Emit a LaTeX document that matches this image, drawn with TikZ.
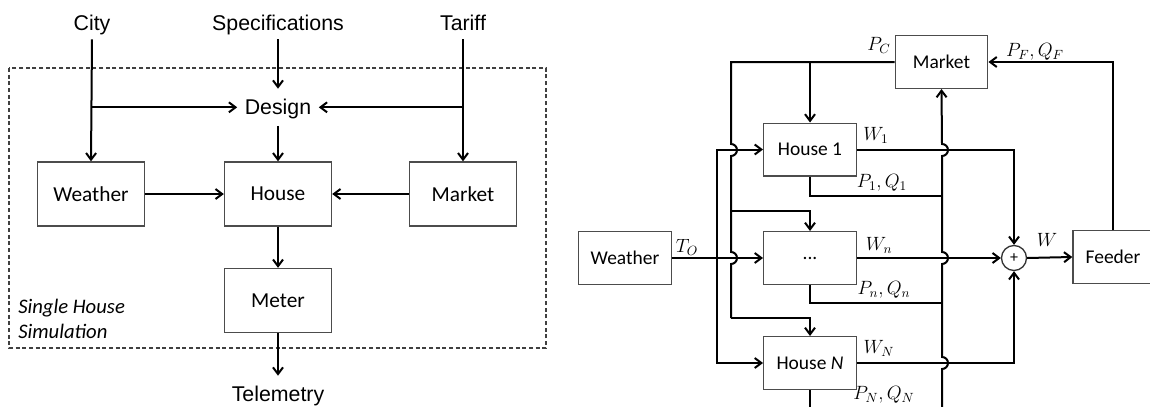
\documentclass[tikz,border=0pt]{standalone}
\usepackage{fontspec}
\setmainfont{Carlito}
\newfontfamily\arialf{Liberation Sans}
\usetikzlibrary{arrows.meta}
\tikzset{
  conn/.style={line width=1.5pt, black},
  arr/.style={conn, -{Straight Barb[length=5pt,width=7.5pt]}},
  boxL/.style={draw=black!70, line width=1pt, fill=white, minimum width=80.25pt, minimum height=48pt, inner sep=0pt, font=\fontsize{16}{19}\selectfont},
  boxR/.style={draw=black!70, line width=1pt, fill=white, minimum width=69.4pt, minimum height=39.5pt, inner sep=0pt, font=\fontsize{14.6}{17}\selectfont},
  toplbl/.style={font=\arialf\fontsize{16}{19}\selectfont, inner xsep=0pt, inner ysep=2.75pt, text height=12pt, text depth=3.5pt},
  mlbl/.style={font=\fontsize{14.4}{17}\selectfont, inner sep=0pt},
  sumnode/.style={circle, draw=black!80, line width=1pt, minimum size=18.75pt, inner sep=0pt, font=\fontsize{12}{14}\selectfont},
  dashbox/.style={draw=black!75, line width=0.8pt, dash pattern=on 3pt off 2pt},
}
\begin{document}
\begin{tikzpicture}[x=0.75pt, y=-0.75pt]
\useasboundingbox (0,0) rectangle (1150,407);

% ---------------- Left diagram ----------------
\draw[dashbox] (9,68) rectangle (546,348);
\node[font=\itshape\fontsize{15.5}{18.75}\selectfont, align=left, anchor=north west, inner sep=0pt] (shs) at (18,299) {Single House\\Simulation};

\node[toplbl] (city) at (92,25) {City};
\node[toplbl] (spec) at (278,25) {Specifications};
\node[toplbl] (tariff) at (463,25) {Tariff};
\node[font=\arialf\fontsize{16}{19}\selectfont, inner xsep=5.5pt, inner ysep=4.5pt, text height=15pt, text depth=3.5pt] (design) at (278,107.3) {Design};

\node[boxL] (weatherL) at (91,194) {Weather};
\node[boxL] (houseL) at (278,194) {House};
\node[boxL] (marketL) at (463,194) {Market};
\node[boxL] (meter) at (278,300.5) {Meter};
\node[font=\arialf\fontsize{16}{19}\selectfont, inner xsep=0pt, inner ysep=7.5pt, text height=12pt, text depth=3.5pt] (telem) at (278,396.3) {Telemetry};

\draw[arr] (city.south) -- (weatherL.north);
\draw[arr] (city.south |- design.west) -- (design.west);
\draw[arr] (tariff.south) -- (marketL.north);
\draw[arr] (tariff.south |- design.east) -- (design.east);
\draw[arr] (spec.south) -- (design.north);
\draw[arr] (design.south) -- (houseL.north);
\draw[arr] (weatherL.east) -- (houseL.west);
\draw[arr] (marketL.west) -- (houseL.east);
\draw[arr] (houseL.south) -- (meter.north);
\draw[arr] (meter.south) -- (telem.north);

% ---------------- Right diagram ----------------
\node[boxR] (marketR) at (941.5,62) {Market};
\node[boxR] (house1) at (810,149.5) {House 1};
\node[boxR] (dots) at (810,258) {...};
\node[boxR] (houseN) at (810,363) {House \textit{N}};
\node[boxR] (weatherR) at (625,258) {Weather};
\node[boxR, minimum width=60pt] (feeder) at (1113,257) {Feeder};
\node[sumnode] (sum) at (1014,258) {+};

\coordinate (tl) at (731,62);
\coordinate (b1) at (810,62);
\coordinate (b2) at (731,211);
\coordinate (b3) at (731,318);
\coordinate (ts) at (717,258);
\coordinate (rb) at (942,407);

% price bus (left), hopping over weather lines
\draw[conn] (marketR.west) -- (tl) -- (731,144) arc[start angle=90, end angle=-90, radius=4.5pt]
  -- (731,252) arc[start angle=90, end angle=-90, radius=4.5pt] -- (b3);
\draw[arr] (b1) -- (house1.north);
\draw[arr] (b2) -| (dots.north);
\draw[arr] (b3) -| (houseN.north);

% weather distribution
\draw[arr] (weatherR.east) -- (dots.west);
\draw[arr] (ts) |- (house1.west);
\draw[arr] (ts) |- (houseN.west);

% load bus (right) up to market, hopping over power lines
\draw[arr] (rb) -- (942,369) arc[start angle=-90, end angle=90, radius=4.5pt]
  -- (942,264) arc[start angle=-90, end angle=90, radius=4.5pt]
  -- (942,156) arc[start angle=-90, end angle=90, radius=4.5pt]
  -- (marketR.south);
\draw[conn] (house1.south) |- (942,196);
\draw[conn] (dots.south) |- (942,303);
\draw[conn] (houseN.south) -- (houseN.south |- rb);

% power outputs to sum
\draw[arr] (house1.east) -| (sum.north);
\draw[arr] (dots.east) -- (sum.west);
\draw[arr] (houseN.east) -| (sum.south);
\draw[arr] (sum.east) -- (feeder.west);
\draw[arr] (feeder.north) |- (marketR.east);

% labels
\node[mlbl] (lpc) at (879,45) {$P_C$};
\node[mlbl] (lpf) at (1035,52) {$P_F, Q_F$};
\node[mlbl] (lw1) at (876,135) {$W_1$};
\node[mlbl] (lp1) at (882,183) {$P_1, Q_1$};
\node[mlbl] (lwn) at (879,245) {$W_n$};
\node[mlbl] (lpn) at (884,290) {$P_n, Q_n$};
\node[mlbl] (lwN) at (879,348) {$W_N$};
\node[mlbl] (lpN) at (884,395) {$P_N, Q_N$};
\node[mlbl] (lto) at (687,247) {$T_O$};
\node[mlbl] (lw) at (1047,240) {$W$};
\end{tikzpicture}
\end{document}
